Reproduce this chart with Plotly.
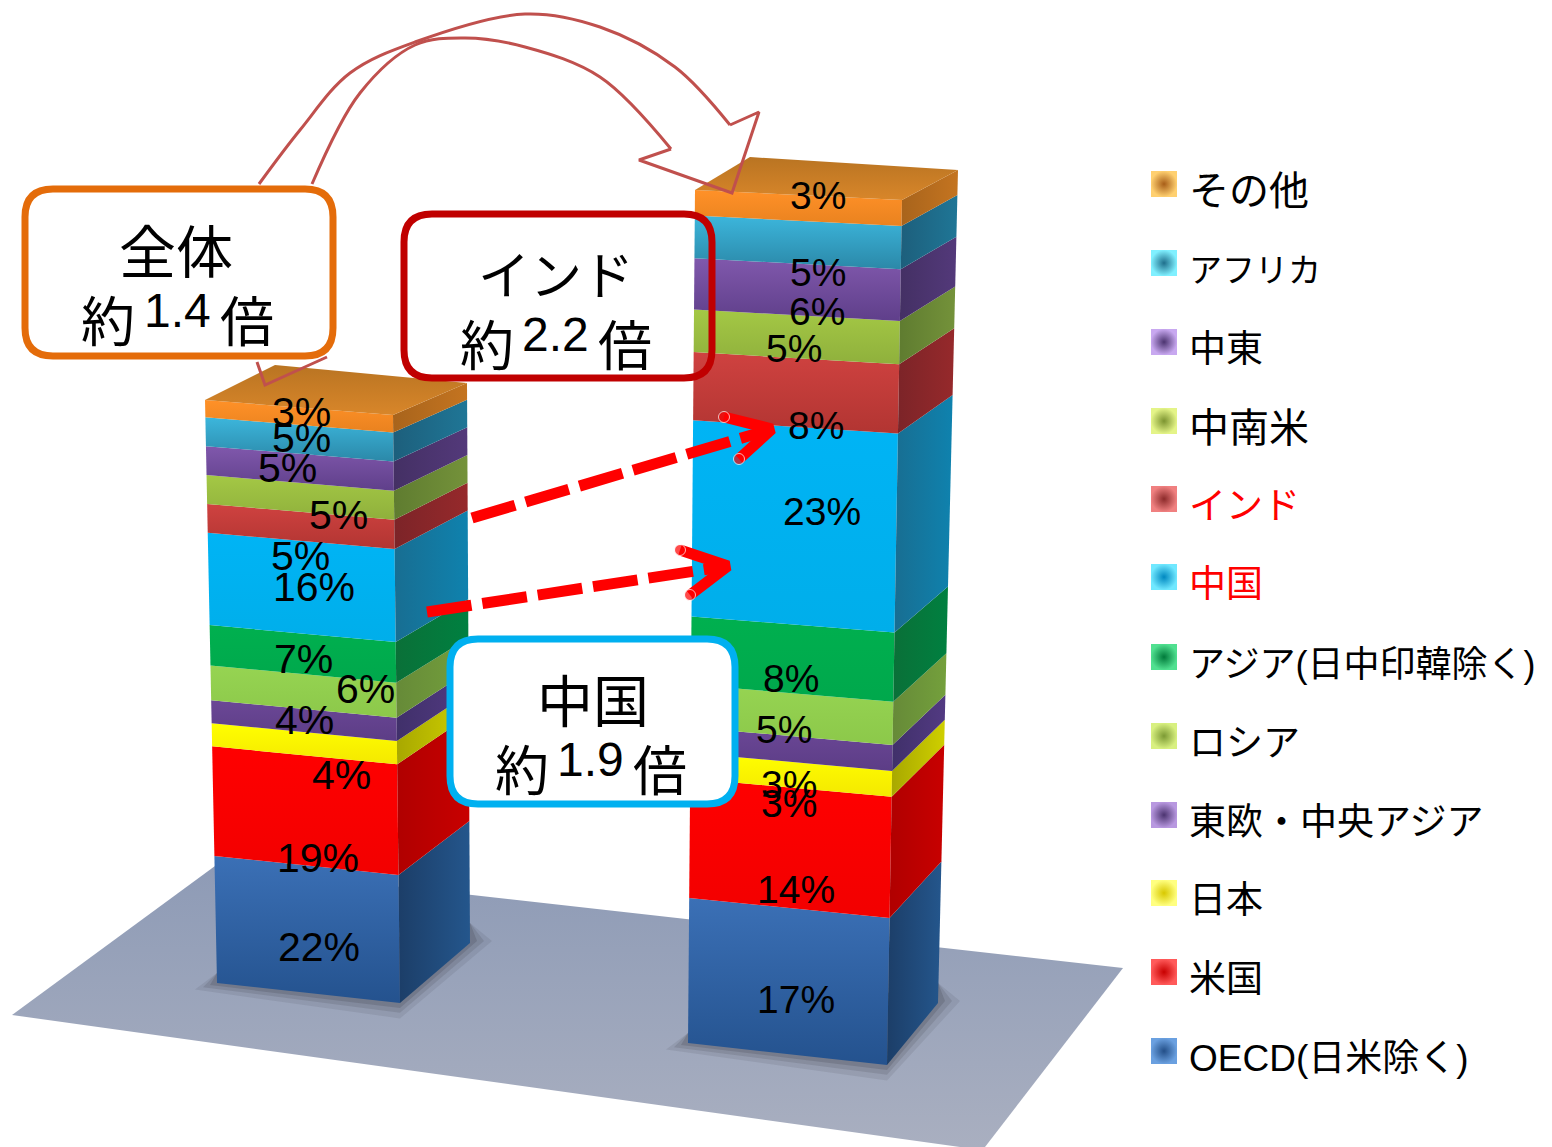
import plotly.graph_objects as go

# Regions, bottom of the stack first
regions = ["OECD(日米除く)", "米国", "日本", "東欧・中央アジア", "ロシア",
           "アジア(日中印韓除く)", "中国", "インド", "中南米", "中東", "アフリカ", "その他"]
left_pct = [22, 19, 4, 4, 6, 7, 16, 5, 5, 5, 5, 3]
right_pct = [17, 14, 3, 3, 5, 8, 23, 8, 5, 6, 5, 3]

# Front face (upper, lower) and side face (near, far) shades per region
front_shades = [("#3b70b6", "#24528e"), ("#ff0000", "#f20000"), ("#ffff00", "#f4e800"),
                ("#6b4796", "#5c3d86"), ("#96d452", "#8cc84a"), ("#00b04f", "#00a84c"),
                ("#00b4f5", "#00aeea"), ("#cf4240", "#b23532"), ("#a4c845", "#8fb03c"),
                ("#8058ac", "#5f3f8a"), ("#3cb6dc", "#2b88a8"), ("#ff9128", "#e9821f")]
side_shades = [("#24568c", "#1c3e68"), ("#c80000", "#b00000"), ("#cfcf00", "#a8a800"),
               ("#523a82", "#40306a"), ("#74a03c", "#668a38"), ("#008040", "#0a7038"),
               ("#0f82ae", "#186e92"), ("#96292b", "#7c2428"), ("#74923a", "#5f7c30"),
               ("#53397a", "#443064"), ("#1f7696", "#1d5f7c"), ("#c47420", "#a8641c")]
swatch_shades = [("#6aa0e0", "#234f88"), ("#ff5a5a", "#c80000"), ("#ffff80", "#d8c800"),
                 ("#b898e0", "#4c3470"), ("#d8f080", "#7c9a34"), ("#50e090", "#007a3a"),
                 ("#70e8ff", "#0088c0"), ("#f08080", "#8c2a2a"), ("#e4f488", "#7c9430"),
                 ("#c8a8f0", "#4c3470"), ("#80f0ff", "#1f6f8c"), ("#ffd070", "#a85e18")]
legend_sizes = [37, 37, 37, 37, 37, 36, 37, 37, 40, 37, 33, 40]
legend_colors = ["black"] * 6 + ["#ff0000", "#ff0000"] + ["black"] * 4

# Projected column frames: each edge runs from stack base to stack top
left_frame = {"L": ((217, 983), (205, 400)), "F": ((400, 1003), (393, 415)),
              "R": ((470, 943), (467, 383)), "B": (275, 365)}
right_frame = {"L": ((688, 1043), (695, 190)), "F": ((887, 1065), (902, 200)),
               "R": ((938, 1003), (958, 170)), "B": (750, 157)}

# Label nudges from the middle of each front face
left_nudge = [(12, 18), (12, 48), (37, 31), (0, -1), (62, -3), (0, 5), (12, 0), (0, 30), (38, 18), (-12, -0), (2, -1), (2, -4)]
right_nudge = [(8, 19), (6, 42), (-2, 29), (-2, 35), (-8, 15), (-2, 20), (28, -14), (20, 33), (-3, 12), (20, 22), (20, 30), (20, -12)]
FONT_LATIN = "Liberation Sans, Noto Sans CJK JP"
FONT_CJK = "Noto Sans CJK JP, Liberation Sans"


def on_edge(edge, frac):
    (x0, y0), (x1, y1) = edge
    return x0 + (x1 - x0) * frac, y0 + (y1 - y0) * frac


def polygon(points, shades, direction="vertical", name=None):
    xs = [p[0] for p in points] + [points[0][0]]
    ys = [p[1] for p in points] + [points[0][1]]
    return go.Scatter(x=xs, y=ys, mode="lines", line=dict(width=0), fill="toself", hoverinfo="skip",
                      name=name or "", showlegend=False,
                      fillgradient=dict(type=direction,
                                        colorscale=[[0, shades[1]], [1, shades[0]]]))


def column_traces(values, frame):
    traces, mids = [], []
    total = sum(values)
    running = 0
    for i, v in enumerate(values):
        lo, hi = running / total, (running + v) / total
        running += v
        l0, l1 = on_edge(frame["L"], lo), on_edge(frame["L"], hi)
        f0, f1 = on_edge(frame["F"], lo), on_edge(frame["F"], hi)
        r0, r1 = on_edge(frame["R"], lo), on_edge(frame["R"], hi)
        traces.append(polygon([l0, f0, f1, l1], front_shades[i], name=regions[i]))
        traces.append(polygon([f0, r0, r1, f1], side_shades[i], "horizontal", regions[i]))
        mids.append(((l0[0] + f0[0] + l1[0] + f1[0]) / 4, (l0[1] + f0[1] + l1[1] + f1[1]) / 4))
    top = [frame["L"][1], frame["B"], frame["R"][1], frame["F"][1]]
    traces.append(polygon(top, ("#b97422", "#d8862a")))
    return traces, mids


fig = go.Figure()

# Ground plane
fig.add_trace(polygon([(12, 1015), (215, 866), (1123, 968), (985, 1147), (960, 1147)],
                      ("#8e9bb6", "#a9afc0")))


def base_shadow(frame):
    l, f, r = frame["L"][0], frame["F"][0], frame["R"][0]
    for grow, alpha in ((22, 0.10), (14, 0.14), (7, 0.18)):
        xs = [l[0] - grow, f[0], r[0] + grow, r[0], l[0]]
        ys = [l[1] + grow * 0.3, f[1] + grow * 0.7, r[1] - 2, r[1] - 20, l[1] - 10]
        fig.add_trace(go.Scatter(x=xs + xs[:1], y=ys + ys[:1], mode="lines", line=dict(width=0),
                                 fill="toself", fillcolor=f"rgba(50,50,60,{alpha})",
                                 hoverinfo="skip", showlegend=False))


base_shadow(left_frame)
base_shadow(right_frame)

annotations = []
for values, frame, nudges, size in ((left_pct, left_frame, left_nudge, 41),
                                    (right_pct, right_frame, right_nudge, 39)):
    traces, mids = column_traces(values, frame)
    fig.add_traces(traces)
    for v, (mx, my), (dx, dy) in zip(values, mids, nudges):
        annotations.append(dict(x=mx + dx, y=my + dy, text=f"{v}%", showarrow=False,
                                font=dict(family=FONT_LATIN, size=size, color="black")))

# Hollow curved arrow sweeping from one column to the other
ARROW_RED = "#c0504d"
for xs, ys in (
    ([259, 300, 350, 415, 525, 600, 675, 730], [184, 130, 73, 42, 14, 27, 67, 125]),
    ([671, 600, 525, 465, 415, 360, 312], [149, 77, 47, 38, 45, 93, 184]),
):
    fig.add_trace(go.Scatter(x=xs, y=ys, mode="lines", hoverinfo="skip", showlegend=False,
                             line=dict(color=ARROW_RED, width=3, shape="spline", smoothing=1)))
for xs, ys in (([730, 759, 732, 639, 671], [125, 112, 193, 160, 149]),
               ([257, 265, 327], [362, 385, 357])):
    fig.add_trace(go.Scatter(x=xs, y=ys, mode="lines", hoverinfo="skip", showlegend=False,
                             line=dict(color=ARROW_RED, width=3)))

# Dashed growth arrows pointing at the enlarged segments
for (x0, y0, x1, y1), head_a, head_b in (
    ((472, 518, 772, 429), (724, 417), (739, 459)),
    ((427, 612, 728, 566), (680, 550), (690, 595)),
):
    fig.add_trace(go.Scatter(x=[x0, x1], y=[y0, y1], mode="lines", hoverinfo="skip", showlegend=False,
                             line=dict(color="#ff0000", width=11, dash="45px,11px")))
    fig.add_trace(go.Scatter(x=[head_a[0], x1, head_b[0]], y=[head_a[1], y1, head_b[1]],
                             mode="lines+markers", hoverinfo="skip", showlegend=False,
                             marker=dict(size=[11, 0, 11], color="#ff0000"),
                             line=dict(color="#ff0000", width=11)))

# Legend keys, top entry is the last region in the stack
legend_ys = [1051, 972, 893, 815, 736, 657, 577, 499, 421, 342, 263, 184]
for i, y in enumerate(legend_ys):
    fig.add_trace(go.Scatter(x=[1164], y=[y], mode="markers", hoverinfo="skip", showlegend=False,
                             marker=dict(symbol="square", size=26, color=swatch_shades[i][0],
                                         gradient=dict(type="radial", color=swatch_shades[i][1]),
                                         line=dict(width=0))))
    annotations.append(dict(x=1187, y=y + 7, text=regions[i], showarrow=False, xanchor="left",
                            font=dict(family=FONT_LATIN, size=legend_sizes[i], color=legend_colors[i])))


def rounded_box(x0, y0, x1, y1, r, color, fill):
    path = (f"M {x0 + r},{y0} L {x1 - r},{y0} Q {x1},{y0} {x1},{y0 + r} L {x1},{y1 - r} "
            f"Q {x1},{y1} {x1 - r},{y1} L {x0 + r},{y1} Q {x0},{y1} {x0},{y1 - r} "
            f"L {x0},{y0 + r} Q {x0},{y0} {x0 + r},{y0} Z")
    return dict(type="path", path=path, xref="x", yref="y", layer="above",
                line=dict(color=color, width=7), fillcolor=fill)


shapes = [rounded_box(25, 189, 333, 356, 28, "#e46c0a", "white"),
          rounded_box(404, 214, 712, 378, 28, "#c00000", "rgba(0,0,0,0)"),
          rounded_box(450, 639, 735, 804, 28, "#00b0f0", "white")]

# Callout wording: heading, then 約 / multiplier / 倍 with the digits set higher
callouts = [("全体", 176, 248, 57, "約", 108, "1.4", 177, "倍", 247, 318, 310),
            ("インド", 556, 272, 52, "約", 487, "2.2", 555, "倍", 625, 342, 334),
            ("中国", 593, 697, 56, "約", 522, "1.9", 590, "倍", 660, 767, 759)]
for head, hx, hy, hs, pre, px, num, nx, post, qx, cjk_y, num_y in callouts:
    annotations.append(dict(x=hx, y=hy, text=head, showarrow=False,
                            font=dict(family=FONT_CJK, size=hs, color="black")))
    annotations.append(dict(x=px, y=cjk_y, text=pre, showarrow=False,
                            font=dict(family=FONT_CJK, size=54, color="black")))
    annotations.append(dict(x=nx, y=num_y, text=num, showarrow=False,
                            font=dict(family=FONT_LATIN, size=48, color="black")))
    annotations.append(dict(x=qx, y=cjk_y, text=post, showarrow=False,
                            font=dict(family=FONT_CJK, size=54, color="black")))

fig.update_layout(
    width=1552, height=1147, margin=dict(l=0, r=0, t=0, b=0),
    paper_bgcolor="white", plot_bgcolor="white", showlegend=False,
    xaxis=dict(range=[0, 1552], visible=False, fixedrange=True),
    yaxis=dict(range=[1147, 0], visible=False, fixedrange=True),
    shapes=shapes, annotations=annotations,
)
fig.write_html("out.html", config=dict(displayModeBar=False))
